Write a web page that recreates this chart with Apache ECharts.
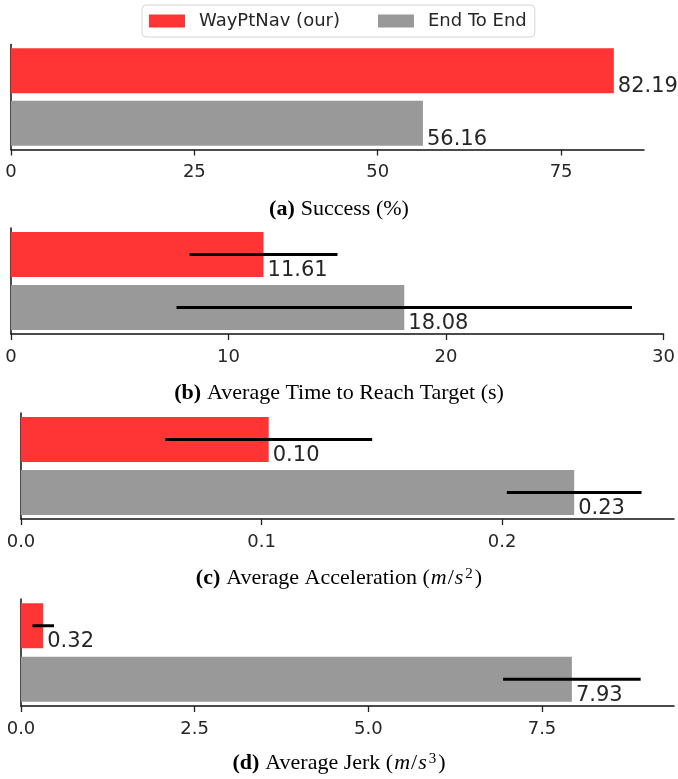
<!DOCTYPE html>
<html>
<head>
<meta charset="utf-8">
<script src="https://cdn.jsdelivr.net/npm/echarts@6/dist/echarts.min.js"></script>
<style>
  html, body { margin: 0; padding: 0; background: #fff; }
  #chart { width: 678px; height: 779px; }
</style>
</head>
<body>
<div id="chart"></div>
<script>
// Methods compared in every panel (top bar first)
const methods = ['WayPtNav (our)', 'End To End'];
const methodColors = ['#ff3434', '#999999'];

// (a) Success rate in percent
const successVals = [82.19, 56.16];
const successTicks = [0, 25, 50, 75];

// (b) Average time to reach target in seconds, with std-dev
const timeVals = [11.61, 18.08];
const timeErr = [3.40, 10.47];
const timeTicks = [0, 10, 20, 30];

// (c) Average acceleration, with std-dev
const accVals = [0.103, 0.230];
const accErr = [0.043, 0.028];
const accTicks = [0, 0.1, 0.2];

// (d) Average jerk, with std-dev
const jerkVals = [0.32, 7.93];
const jerkErr = [0.155, 0.99];
const jerkTicks = [0, 2.5, 5, 7.5];

const panels = [
  { vals: successVals, err: null, ticks: successTicks, max: 86.3, dec: 0, labelDec: 2,
    grid: { left: 11, top: 44.5, width: 633, height: 105 },
    caption: '{b|(a)}{n|Success (%)}', capY: 211 },
  { vals: timeVals, err: timeErr, ticks: timeTicks, max: 30, dec: 0, labelDec: 2,
    grid: { left: 11, top: 228, width: 658, height: 106 },
    caption: '{b|(b)}{n|Average Time to Reach Target (s)}', capY: 395 },
  { vals: accVals, err: accErr, ticks: accTicks, max: 0.2715, dec: 1, labelDec: 2,
    grid: { left: 21, top: 413, width: 653, height: 106 },
    caption: '{b|(c)}{n|Average Acceleration (}{i|m}{n|/}{i|s}{sup|2}{n|)}', capY: 580 },
  { vals: jerkVals, err: jerkErr, ticks: jerkTicks, max: 9.4, dec: 1, labelDec: 2,
    grid: { left: 21, top: 599, width: 653, height: 107 },
    caption: '{b|(d)}{n|Average Jerk (}{i|m}{n|/}{i|s}{sup|3}{n|)}', capY: 765 }
];

const sans = 'DejaVu Sans';
const serif = 'Liberation Serif';
const textColor = '#262626';

const grids = [], xAxes = [], yAxes = [], series = [], graphics = [];

panels.forEach((p, k) => {
  grids.push(Object.assign({ containLabel: false }, p.grid));
  xAxes.push({
    type: 'value', gridIndex: k, min: 0, max: p.max,
    splitLine: { show: false },
    axisLine: { show: true, onZero: false, lineStyle: { color: '#111', width: 1.5 } },
    axisTick: { show: true, length: 6, customValues: p.ticks, lineStyle: { color: '#222', width: 1.3 } },
    axisLabel: {
      show: true, customValues: p.ticks, margin: 14,
      fontFamily: sans, fontSize: 18, color: textColor,
      formatter: v => v.toFixed(p.dec)
    }
  });
  yAxes.push({
    type: 'category', gridIndex: k, data: methods, inverse: true,
    axisLine: { show: true, lineStyle: { color: '#111', width: 1.5 } },
    axisTick: { show: false }, axisLabel: { show: false }, splitLine: { show: false }
  });

  methods.forEach((m, i) => {
    const data = methods.map((_, j) => (j === i ? p.vals[j] : '-'));
    series.push({
      type: 'bar', name: m, xAxisIndex: k, yAxisIndex: k,
      stack: 'panel' + k, barWidth: 45, data: data,
      itemStyle: { color: methodColors[i] },
      label: {
        show: true, position: 'right', distance: 4, offset: [0, 16],
        fontFamily: sans, fontSize: 21, color: textColor,
        formatter: prm => Number(prm.value).toFixed(p.labelDec)
      },
      z: 2
    });
  });

  if (p.err) {
    const errData = p.vals.map((v, j) => [v - p.err[j], v + p.err[j], j]);
    series.push({
      type: 'custom', xAxisIndex: k, yAxisIndex: k, data: errData,
      encode: { x: [0, 1], y: 2 },
      renderItem: (params, api) => {
        const c = api.value(2);
        const a = api.coord([api.value(0), c]);
        const b = api.coord([api.value(1), c]);
        return { type: 'line', shape: { x1: a[0], y1: a[1], x2: b[0], y2: b[1] },
                 style: { stroke: '#000', lineWidth: 3 } };
      },
      z: 5, silent: true
    });
  }

  graphics.push({
    type: 'text', left: 'center', top: p.capY - 13,
    style: {
      text: p.caption,
      rich: {
        b: { fontFamily: serif, fontWeight: 'bold', fontSize: 22, fill: '#000', padding: [0, 6, 0, 0] },
        n: { fontFamily: serif, fontSize: 22, fill: '#000' },
        i: { fontFamily: serif, fontStyle: 'italic', fontSize: 22, fill: '#000', padding: [0, 1, 0, 1] },
        sup: { fontFamily: serif, fontSize: 15, fill: '#000', verticalAlign: 'top', padding: [0, 2, 8, 1] }
      }
    }
  });
});

const chart = echarts.init(document.getElementById('chart'), null, { renderer: 'canvas' });
chart.setOption({
  animation: false,
  backgroundColor: '#fff',
  legend: {
    data: methods, left: 142, top: 5,
    icon: 'rect', itemWidth: 36, itemHeight: 13, itemGap: 38,
    padding: [7, 8, 7, 7],
    borderColor: '#d4d4d4', borderWidth: 1, borderRadius: 4,
    backgroundColor: '#fff',
    textStyle: { fontFamily: sans, fontSize: 18, color: textColor, padding: [0, 0, 0, 9] }
  },
  grid: grids, xAxis: xAxes, yAxis: yAxes, series: series,
  graphic: graphics
});
</script>
</body>
</html>
